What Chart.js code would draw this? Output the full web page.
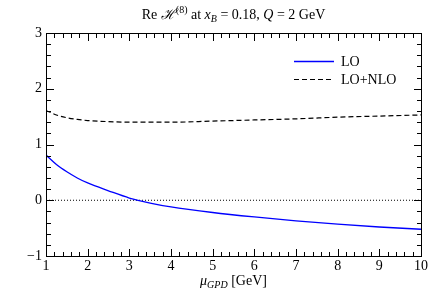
<!DOCTYPE html>
<html>
<head>
<meta charset="utf-8">
<script src="https://cdn.jsdelivr.net/npm/chart.js@4"></script>
<style>
  html, body { margin: 0; padding: 0; background: #fff; }
  #wrap { width: 442px; height: 290px; }
</style>
</head>
<body>
<div id="wrap"><canvas id="chart" width="442" height="290"></canvas></div>
<script>
// values
const muValues  = [1, 1.25, 1.5, 1.75, 2, 2.5, 3, 3.5, 4, 5, 6, 7, 8, 9, 10];
const loValues  = [0.81, 0.64, 0.51, 0.40, 0.31, 0.17, 0.04, -0.05, -0.12, -0.22, -0.30, -0.37, -0.43, -0.48, -0.52];
const nloValues = [1.61, 1.53, 1.48, 1.45, 1.43, 1.41, 1.40, 1.40, 1.40, 1.42, 1.44, 1.46, 1.49, 1.51, 1.53];
const zeroX = [1, 10];
const zeroY = [0, 0];
const xTicks = [1, 2, 3, 4, 5, 6, 7, 8, 9, 10];
const yTicks = [-1, 0, 1, 2, 3];
const seriesNames = ['LO', 'LO+NLO'];

const FONT = "'Liberation Serif', 'DejaVu Serif', serif";

function toPoints(xs, ys) {
    return xs.map((x, i) => ({ x: x, y: ys[i] }));
}

// draw a run of text pieces (different fonts / offsets) centred on cx
function drawRich(ctx, parts, cx, y) {
    let total = 0;
    parts.forEach(p => {
        ctx.font = p.font;
        p.w = ctx.measureText(p.text).width;
        total += p.w;
    });
    let x = cx - total / 2;
    ctx.textAlign = 'left';
    ctx.textBaseline = 'alphabetic';
    parts.forEach(p => {
        ctx.font = p.font;
        ctx.fillText(p.text, x, y + (p.dy || 0));
        x += p.w;
    });
}

const frame = {
    id: 'frame',
    afterDatasetsDraw(chart) {
        const ctx = chart.ctx;
        const a = chart.chartArea;
        const xs = chart.scales.x, ys = chart.scales.y;
        const L = Math.round(a.left), R = Math.round(a.right);
        const T = Math.round(a.top), B = Math.round(a.bottom);
        ctx.save();
        ctx.fillStyle = '#000';

        // box
        ctx.fillRect(L, T, R - L + 1, 1);
        ctx.fillRect(L, B, R - L + 1, 1);
        ctx.fillRect(L, T, 1, B - T + 1);
        ctx.fillRect(R, T, 1, B - T + 1);

        // inward ticks on all four sides, minor every 0.2
        for (let i = 0; i <= 45; i++) {
            const v = 1 + i * 0.2;
            const len = i % 5 === 0 ? 7 : 4;
            const px = Math.round(xs.getPixelForValue(v));
            ctx.fillRect(px, B - len, 1, len);
            ctx.fillRect(px, T + 1, 1, len);
        }
        for (let i = 0; i <= 20; i++) {
            const v = -1 + i * 0.2;
            const len = i % 5 === 0 ? 7 : 4;
            const py = Math.round(ys.getPixelForValue(v));
            ctx.fillRect(L + 1, py, len, 1);
            ctx.fillRect(R - len, py, len, 1);
        }

        // tick labels
        ctx.font = '14px ' + FONT;
        ctx.textAlign = 'center';
        ctx.textBaseline = 'alphabetic';
        xTicks.forEach(v => {
            ctx.fillText(String(v), xs.getPixelForValue(v), 270);
        });
        ctx.textAlign = 'right';
        ctx.textBaseline = 'middle';
        yTicks.forEach(v => {
            const label = v < 0 ? '\u2212' + Math.abs(v) : String(v);
            ctx.fillText(label, a.left - 4, ys.getPixelForValue(v));
        });

        // title
        const n = '14px ' + FONT, it = 'italic 14px ' + FONT;
        const sm = '10px ' + FONT, smi = 'italic 10px ' + FONT;
        drawRich(ctx, [
            { text: 'Re ', font: n },
            { text: '\u210B', font: it },
            { text: '(8)', font: sm, dy: -6 },
            { text: ' at ', font: n },
            { text: 'x', font: it },
            { text: 'B', font: smi, dy: 3 },
            { text: ' = 0.18, ', font: n },
            { text: 'Q', font: it },
            { text: ' = 2 GeV', font: n }
        ], (a.left + a.right) / 2, 19);

        // x axis label
        drawRich(ctx, [
            { text: '\u03BC', font: it },
            { text: 'GPD', font: smi, dy: 3 },
            { text: ' [GeV]', font: n }
        ], (a.left + a.right) / 2, 285);

        // legend
        const sets = chart.data.datasets;
        const rows = [61, 79];
        rows.forEach((ry, i) => {
            const ds = sets[i];
            ctx.beginPath();
            ctx.strokeStyle = ds.borderColor;
            ctx.lineWidth = ds.borderWidth;
            ctx.setLineDash(ds.borderDash || []);
            ctx.moveTo(294, ry + 0.5);
            ctx.lineTo(334, ry + 0.5);
            ctx.stroke();
            ctx.setLineDash([]);
            ctx.font = '14px ' + FONT;
            ctx.textAlign = 'left';
            ctx.textBaseline = 'middle';
            ctx.fillText(seriesNames[i], 341, ry + 1);
        });
        ctx.restore();
    }
};

new Chart(document.getElementById('chart'), {
    type: 'line',
    data: {
        datasets: [
            {
                label: seriesNames[0],
                data: toPoints(muValues, loValues),
                borderColor: '#0000ff',
                borderWidth: 1.3,
                pointRadius: 0,
                cubicInterpolationMode: 'monotone'
            },
            {
                label: seriesNames[1],
                data: toPoints(muValues, nloValues),
                borderColor: '#000000',
                borderWidth: 1.2,
                borderDash: [5, 3],
                pointRadius: 0,
                cubicInterpolationMode: 'monotone'
            },
            {
                label: 'zero',
                data: toPoints(zeroX, zeroY),
                borderColor: '#000000',
                borderWidth: 1,
                borderDash: [1, 2],
                pointRadius: 0
            }
        ]
    },
    options: {
        responsive: false,
        animation: false,
        devicePixelRatio: 1,
        layout: { padding: { left: 46, top: 33, right: 21, bottom: 34 } },
        plugins: {
            legend: { display: false },
            tooltip: { enabled: false },
            title: { display: false }
        },
        scales: {
            x: { type: 'linear', min: 1, max: 10, display: false },
            y: { type: 'linear', min: -1, max: 3, display: false }
        }
    },
    plugins: [frame]
});
</script>
</body>
</html>
